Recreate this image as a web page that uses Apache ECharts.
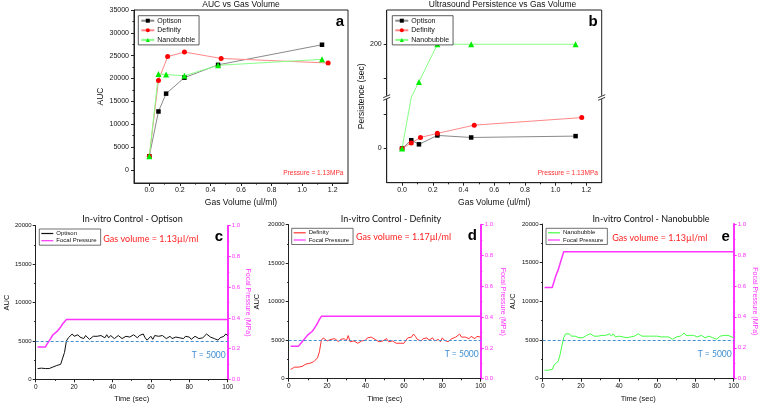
<!DOCTYPE html>
<html><head><meta charset="utf-8">
<script src="https://cdn.jsdelivr.net/npm/echarts@6/dist/echarts.min.js"></script>
<style>html,body{margin:0;padding:0;background:#fff}#c{width:760px;height:406px}</style>
</head><body><div id="c"></div>
<script>
// ---- Panel a / b data (gas volume in ul/ml) ----
const gasOptison = [0, 0.06, 0.11, 0.23, 0.45, 1.13];
const gasDefinity = [0, 0.06, 0.12, 0.23, 0.47, 1.17];
const gasNano = [0, 0.06, 0.11, 0.23, 0.45, 1.13];
const aucOptison = [3000, 12800, 16700, 20200, 23000, 27400];
const aucDefinity = [3000, 19600, 24800, 25800, 24400, 23400];
const aucNano = [3000, 21000, 20900, 20600, 22900, 24200];
const persOptison = [0, 12, 6, 19, 16, 18];
const persDefinity = [0, 8, 16, 22, 34, 45];
const persNano = [0, 100, 145, 200, 200, 200];
const persBreak = [72, 125];
const gasTicks = [0, 0.2, 0.4, 0.6, 0.8, 1.0, 1.2];
const gasMinorTicks = [0.1, 0.3, 0.5, 0.7, 0.9, 1.1];
const aucTicks = [0, 5000, 10000, 15000, 20000, 25000, 30000, 35000];
const aucMinorTicks = [2500, 7500, 12500, 17500, 22500, 27500, 32500];
const persTicks = [0, 50, 150, 200];
const persLabels = [0, 200];

// ---- Panels c/d/e time series (sec) ----
const time = [1,2,3,4,5,6,7,8,9,10,11,12,13,14,15,16,17,18,19,20,21,22,23,24,25,26,27,28,29,30,31,32,33,34,35,36,37,38,39,40,41,42,43,44,45,46,47,48,49,50,51,52,53,54,55,56,57,58,59,60,61,62,63,64,65,66,67,68,69,70,71,72,73,74,75,76,77,78,79,80,81,82,83,84,85,86,87,88,89,90,91,92,93,94,95,96,97,98,99,100];
const tOptison = [1400,1350,1450,1350,1400,1500,1400,1500,1600,1700,1800,1900,1950,2100,3500,5000,5400,5300,5900,5600,5400,5800,5500,5700,5300,5700,5500,5200,5400,5600,5500,5600,5500,5700,5900,5400,5800,5400,5700,5700,5300,5400,5700,5600,5300,5500,5600,5700,5500,5700,5800,5600,5400,5700,5600,5900,5400,5100,5300,5600,5200,5700,5500,5600,5400,5700,5500,5300,5400,5600,5300,5200,5500,5300,5400,5500,5300,5600,5400,5500,5200,5400,5600,5500,5300,5100,5400,5600,5900,5700,5500,5700,5300,5400,5100,5400,5500,5600,5900,5700];
const tDefinity = [1200,1400,1500,1500,1500,1550,1600,1700,1900,1950,2000,2100,2200,2300,2700,3500,5000,5300,5500,4900,4800,5100,4900,5200,5000,4800,5100,4900,5200,4900,5600,4800,4600,4900,4700,4600,4800,4900,5100,5000,5300,5200,5400,5300,5100,5000,4800,4700,4900,5000,5200,4800,4700,4900,4800,4600,4700,4600,4700,4600,4800,5300,5300,5400,5800,5500,5100,5300,4900,5200,5100,5300,5000,5200,5300,4900,5000,5100,4800,5300,5000,5100,4800,5000,5200,5300,5400,5600,5800,5400,5200,5400,5300,5200,5500,5400,5200,5500,5300,5400];
const tNano = [1100,1100,1100,1100,1200,1800,1900,2200,3000,4200,5300,5800,5900,5800,5500,5300,5500,5400,5300,5400,5300,5500,5600,5700,5800,5600,5500,5400,5500,5400,5600,5700,5600,5700,5800,5500,5800,5400,5600,5500,5300,5400,5300,5300,5100,5400,5600,5500,5700,5800,5700,5500,5600,5500,5500,5500,5500,5500,5500,5500,5500,5400,5500,5400,5300,5400,5200,5100,5100,5400,5600,5500,5700,5900,5600,5500,5600,5400,5600,5500,5400,5500,5600,5500,5300,5400,5500,5400,5300,5300,5100,5200,5500,5700,5600,5500,5600,5400,5400,5300];
const pressOptT = [1,5,6,7,8,9,10,11,12,13,14,15,16,100];
const pressOptV = [0.21,0.21,0.23,0.25,0.27,0.29,0.30,0.31,0.32,0.34,0.36,0.375,0.39,0.39];
const pressDefT = [1,5,7,9,10,11,12,13,14,15,16,17,100];
const pressDefV = [0.21,0.21,0.24,0.27,0.285,0.295,0.305,0.32,0.34,0.36,0.385,0.405,0.405];
const pressNanoT = [1,5,6,7,8,9,10,11,100];
const pressNanoV = [0.59,0.59,0.63,0.67,0.70,0.74,0.78,0.82,0.82];
const threshold = 5000;

const zip = (xs, ys) => xs.map((x, i) => [x, ys[i]]);
const AX = '#222';
const MAG = '#ff33ff';
const BLUE = '#3f8fd2';
const FF = '"Liberation Sans", Arial, sans-serif';
const CAL = 'Lato, "Liberation Sans", sans-serif';
const plain = v => String(v);

function gasX(grid, minor) {
  if (minor) return {type:'value', gridIndex:grid, position:'bottom', min:-0.1, max:1.3, axisLine:{show:false, onZero:false}, splitLine:{show:false},
    axisLabel:{show:false}, axisTick:{show:true, length:1.6, customValues:gasMinorTicks, lineStyle:{color:AX}}};
  return {type:'value', gridIndex:grid, position:'bottom', min:-0.1, max:1.3, name:'Gas Volume (ul/ml)', nameLocation:'middle', nameGap:15.5,
    nameTextStyle:{fontSize:8.5, color:'#111', fontFamily:FF},
    axisLine:{show:true, onZero:false, lineStyle:{color:AX, width:1}}, splitLine:{show:false},
    axisTick:{show:true, length:3, customValues:gasTicks, lineStyle:{color:AX}},
    axisLabel:{customValues:gasTicks, formatter:v=>v.toFixed(1), fontSize:7, margin:4, color:'#111', fontFamily:FF}};
}
function timeX(grid) {
  return {type:'value', gridIndex:grid, min:0, max:100, interval:20, name:'Time (sec)', nameLocation:'middle', nameGap:16,
    nameTextStyle:{fontSize:7.5, color:'#111', fontFamily:FF},
    axisLine:{show:true, onZero:false, lineStyle:{color:AX, width:1}}, splitLine:{show:false},
    axisTick:{length:3, lineStyle:{color:AX}}, minorTick:{show:true, splitNumber:2, length:1.6, lineStyle:{color:AX}},
    axisLabel:{fontSize:6.5, margin:4, color:'#111', fontFamily:FF}};
}
function aucY(grid, gap) {
  return {type:'value', gridIndex:grid, position:'left', min:0, max:20000, interval:5000, name:'AUC', nameLocation:'middle', nameGap:gap,
    nameTextStyle:{fontSize:7.5, color:'#111', fontFamily:FF},
    axisLine:{show:true, onZero:false, lineStyle:{color:AX, width:1}}, splitLine:{show:false},
    axisTick:{show:true, length:3, lineStyle:{color:AX}}, minorTick:{show:true, splitNumber:2, length:1.6, lineStyle:{color:AX}},
    axisLabel:{fontSize:6, margin:4, color:'#111', fontFamily:FF, formatter:plain}};
}
function pressY(grid, gap) {
  return {type:'value', gridIndex:grid, position:'right', min:0, max:1, interval:0.2, name:'Focal Pressure (MPa)',
    nameLocation:'middle', nameGap:gap, nameRotate:-90,
    nameTextStyle:{fontSize:7, color:MAG, fontFamily:FF},
    axisLine:{show:true, onZero:false, lineStyle:{color:MAG, width:2}}, splitLine:{show:false},
    axisTick:{show:true, length:3, lineStyle:{color:MAG}}, minorTick:{show:true, splitNumber:2, length:1.6, lineStyle:{color:MAG}},
    axisLabel:{fontSize:6, margin:4, color:MAG, formatter:v=>v.toFixed(1), fontFamily:FF}};
}
function lineLegend(left, top, names) {
  return {orient:'vertical', left, top, data:names, formatter:n=>n.split(':').pop(), icon:'rect',
    itemWidth:12, itemHeight:1.2, itemGap:1.2, padding:[1.5,4,1.5,2], borderColor:'#333', borderWidth:0.7,
    backgroundColor:'#fff', selectedMode:false, textStyle:{fontSize:6, color:'#111', fontFamily:FF, padding:[0,0,0,-2]}};
}
function symLegend(left, top, names) {
  return {orient:'vertical', left, top, data:names, formatter:n=>n.split(':').pop(),
    itemWidth:13, itemHeight:5, itemGap:2.6, padding:[1.5,4,1.5,2], borderColor:'#333', borderWidth:0.8,
    backgroundColor:'#fff', selectedMode:false, textStyle:{fontSize:7, color:'#111', fontFamily:FF, padding:[0,0,0,-2]}};
}
function symSeries(name, x, y, xi, yi, kind, brk) {
  const st = {
    Optison:{symbol:'rect', size:4.5, c:'#000', l:'#8a8a8a'},
    Definity:{symbol:'circle', size:5, c:'#ff0000', l:'#ff8888'},
    Nanobubble:{symbol:'triangle', size:6, c:'#00ee00', l:'#88ff88'}}[kind];
  const data = zip(x, y).map(p => (brk && p[1] > brk[0] && p[1] < brk[1]) ? {value:p, symbol:'none'} : p);
  return {type:'line', name, xAxisIndex:xi, yAxisIndex:yi, data, symbol:st.symbol, symbolSize:st.size,
    showAllSymbol:true, itemStyle:{color:st.c}, lineStyle:{color:st.l, width:1}, emphasis:{disabled:true}, animation:false};
}
function tsSeries(name, y, xi, yi, color) {
  return {type:'line', name, xAxisIndex:xi, yAxisIndex:yi, data:zip(time, y), symbol:'none', itemStyle:{color},
    lineStyle:{color, width:1}, animation:false,
    markLine:{symbol:'none', silent:true, animation:false, data:[{yAxis:threshold}],
      lineStyle:{type:[3,2], color:BLUE, width:1},
      label:{show:true, position:'insideEndBottom', formatter:'T = ' + threshold, color:BLUE, fontSize:8.5, fontFamily:CAL, distance:[2,10]}}};
}
function pSeries(name, t, v, xi, yi) {
  return {type:'line', name, xAxisIndex:xi, yAxisIndex:yi, data:zip(t, v), symbol:'none', itemStyle:{color:MAG},
    lineStyle:{color:MAG, width:1.5}, animation:false};
}
function txt(text, x, y, size, color, opts) {
  opts = opts || {};
  return {type:'text', x, y, z:100, silent:true, style:{text, fill:color, fontSize:size, fontFamily:opts.family || FF,
    fontWeight:opts.weight || 'normal', align:opts.align || 'center', verticalAlign:'middle'}};
}

const chart = echarts.init(document.getElementById('c'), null, {renderer:'canvas'});
const option = {
  animation:false,
  backgroundColor:'#fff',
  textStyle:{fontFamily:FF},
  grid:[
    {left:134, top:10, width:214, height:173, show:true, borderColor:AX, borderWidth:1},
    {left:386.7, top:10, width:215, height:172.7, show:true, borderColor:AX, borderWidth:1},
    {left:35.7, top:225.7, width:192, height:153.6},
    {left:288.7, top:224.7, width:192, height:154},
    {left:542.7, top:224, width:191, height:154.7}
  ],
  xAxis:[gasX(0,false), gasX(0,true), gasX(1,false), gasX(1,true), timeX(2), timeX(3), timeX(4)],
  yAxis:[
    {type:'value', gridIndex:0, position:'left', min:-2850, max:35000, name:'AUC', nameLocation:'middle', nameGap:27,
      nameTextStyle:{fontSize:8.5, color:'#111', fontFamily:FF},
      axisLine:{show:true, onZero:false, lineStyle:{color:AX, width:1}}, splitLine:{show:false},
      axisTick:{show:true, length:3, customValues:aucTicks, lineStyle:{color:AX}},
      axisLabel:{customValues:aucTicks, fontSize:7, margin:5, color:'#111', fontFamily:FF, formatter:plain}},
    {type:'value', gridIndex:0, position:'left', min:-2850, max:35000, axisLine:{show:false, onZero:false}, splitLine:{show:false},
      axisLabel:{show:false}, axisTick:{show:true, length:1.6, customValues:aucMinorTicks, lineStyle:{color:AX}}},
    {type:'value', gridIndex:1, position:'left', min:-50, max:250, name:'Persistence (sec)', nameLocation:'middle', nameGap:21,
      nameTextStyle:{fontSize:8.5, color:'#111', fontFamily:FF},
      breaks:[{start:persBreak[0], end:persBreak[1], gap:'2%'}], breakArea:{show:false},
      axisLine:{show:true, onZero:false, lineStyle:{color:AX, width:1}}, splitLine:{show:false},
      axisTick:{show:true, length:3, customValues:persTicks, lineStyle:{color:AX}},
      axisLabel:{customValues:persLabels, fontSize:7, margin:5, color:'#111', fontFamily:FF, formatter:plain}},
    aucY(2, 19), pressY(2, 17),
    aucY(3, 28), pressY(3, 19),
    aucY(4, 26), pressY(4, 18)
  ],
  legend:[
    symLegend(138.3, 15.7, ['a:Optison','a:Definity','a:Nanobubble']),
    symLegend(392.3, 15.7, ['b:Optison','b:Definity','b:Nanobubble']),
    lineLegend(39.3, 229, ['c:Optison','c:Focal Pressure']),
    lineLegend(291.7, 228.3, ['d:Definity','d:Focal Pressure']),
    lineLegend(546, 228.3, ['e:Nanobubble','e:Focal Pressure'])
  ],
  series:[
    symSeries('a:Optison', gasOptison, aucOptison, 0, 0, 'Optison'),
    symSeries('a:Definity', gasDefinity, aucDefinity, 0, 0, 'Definity'),
    symSeries('a:Nanobubble', gasNano, aucNano, 0, 0, 'Nanobubble'),
    symSeries('b:Optison', gasOptison, persOptison, 2, 2, 'Optison', persBreak),
    symSeries('b:Definity', gasDefinity, persDefinity, 2, 2, 'Definity', persBreak),
    symSeries('b:Nanobubble', gasNano, persNano, 2, 2, 'Nanobubble', persBreak),
    tsSeries('c:Optison', tOptison, 4, 3, '#111'),
    pSeries('c:Focal Pressure', pressOptT, pressOptV, 4, 4),
    tsSeries('d:Definity', tDefinity, 5, 5, '#ff3333'),
    pSeries('d:Focal Pressure', pressDefT, pressDefV, 5, 6),
    tsSeries('e:Nanobubble', tNano, 6, 7, '#44ff44'),
    pSeries('e:Focal Pressure', pressNanoT, pressNanoV, 6, 8)
  ],
  graphic:[
    txt('AUC vs Gas Volume', 241, 5, 8.5, '#111'),
    txt('Ultrasound Persistence vs Gas Volume', 502.5, 5, 8.5, '#111'),
    txt('In-vitro Control - Optison', 132.5, 219.3, 9, '#111', {family:CAL}),
    txt('In-vitro Control - Definity', 391, 219, 9, '#111', {family:CAL}),
    txt('In-vitro Control - Nanobubble', 651, 218.7, 9, '#111', {family:CAL}),
    txt('a', 340, 22, 15, '#000', {weight:'bold'}),
    txt('b', 593, 22, 15, '#000', {weight:'bold'}),
    txt('c', 219, 237, 15, '#000', {weight:'bold'}),
    txt('d', 472.3, 236, 15, '#000', {weight:'bold'}),
    txt('e', 725.7, 237, 15, '#000', {weight:'bold'}),
    txt('Pressure = 1.13MPa', 343.5, 172.7, 6.6, '#ff3030', {align:'right'}),
    txt('Pressure = 1.13MPa', 598, 173, 6.6, '#ff3030', {align:'right'}),
    txt('Gas volume = 1.13\u00b5l/ml', 103.3, 239.3, 9, '#ff2020', {family:CAL, align:'left'}),
    txt('Gas volume = 1.17\u00b5l/ml', 356, 237, 9, '#ff2020', {family:CAL, align:'left'}),
    txt('Gas volume = 1.13\u00b5l/ml', 612.3, 237.7, 9, '#ff2020', {family:CAL, align:'left'})
  ]
};
chart.setOption(option);

// "//" break marks on both vertical edges of panel b, placed at the axis break
const yb = chart.convertToPixel({yAxisIndex:2}, (persBreak[0] + persBreak[1]) / 2);
const marks = [];
[386.7, 601.7].forEach(x => {
  marks.push({type:'rect', z:90, silent:true, shape:{x:x-3, y:yb-1.6, width:6, height:3.2}, style:{fill:'#fff'}});
  marks.push({type:'line', z:91, silent:true, shape:{x1:x-3.5, y1:yb+0.3, x2:x+3.5, y2:yb-2.7}, style:{stroke:AX, lineWidth:0.9}});
  marks.push({type:'line', z:91, silent:true, shape:{x1:x-3.5, y1:yb+2.9, x2:x+3.5, y2:yb-0.1}, style:{stroke:AX, lineWidth:0.9}});
});
chart.setOption({graphic: option.graphic.concat(marks)});
</script></body></html>
